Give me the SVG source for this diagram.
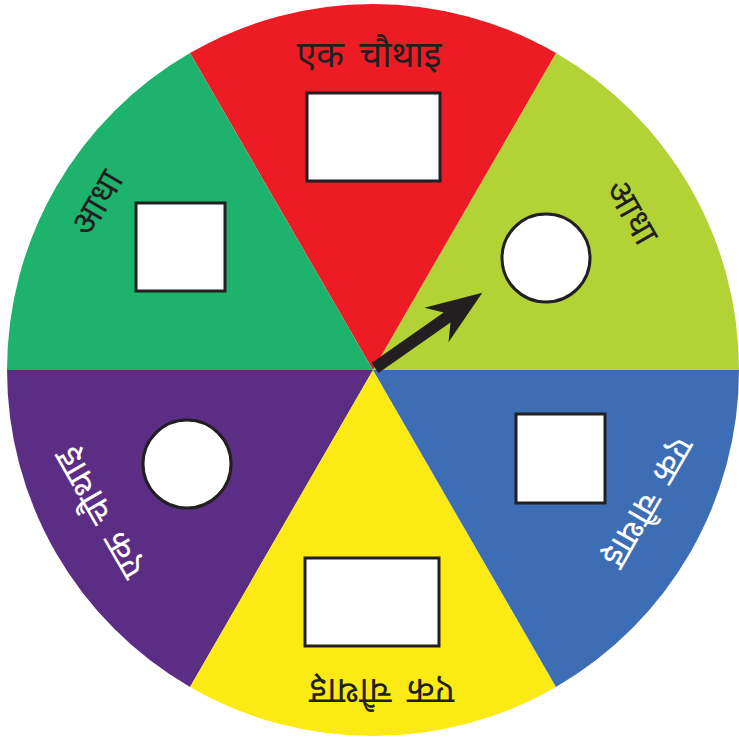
<svg xmlns="http://www.w3.org/2000/svg" width="739" height="738" viewBox="0 0 739 738">
<style>
.box{fill:#fff;stroke:#231f20;stroke-width:3}
.lbl{font-family:"Noto Sans Devanagari","Noto Sans","DejaVu Sans",sans-serif;font-size:36px;text-anchor:middle;word-spacing:6px}
.dk{fill:#231f20}
.wt{fill:#fff}
</style>
<rect width="739" height="738" fill="#fff"/>
<g id="sectors">
<path id="s-lime" d="M373,370 L739,370 A366,366 0 0 0 556,53.03 Z" fill="#b2d235"/>
<path id="s-red" d="M373,370 L556,53.03 A366,366 0 0 0 190,53.03 Z" fill="#ed1c24"/>
<path id="s-green" d="M373,370 L190,53.03 A366,366 0 0 0 7,370 Z" fill="#1db36c"/>
<path id="s-purple" d="M373,370 L7,370 A366,366 0 0 0 190,686.97 Z" fill="#5c2d84"/>
<path id="s-yellow" d="M373,370 L190,686.97 A366,366 0 0 0 556,686.97 Z" fill="#fbea14"/>
<path id="s-blue" d="M373,370 L556,686.97 A366,366 0 0 0 739,370 Z" fill="#3c6db5"/>
</g>
<g id="n-red">
<rect class="box" x="307" y="93" width="133" height="88"/>
<text class="lbl dk" x="369" y="67">एक चौथाइ</text>
</g>
<g id="n-lime">
<circle class="box" cx="546" cy="258" r="44"/>
<text class="lbl dk" transform="translate(632,212) rotate(60)" y="12">आधा</text>
</g>
<g id="n-green">
<rect class="box" x="136" y="203" width="89" height="88"/>
<text class="lbl dk" transform="translate(97,203) rotate(-60)" y="12">आधा</text>
</g>
<g id="n-blue">
<rect class="box" x="516" y="414" width="89" height="89"/>
<text class="lbl wt" transform="translate(648,502) rotate(120)" y="12">एक चौथाइ</text>
</g>
<g id="n-purple">
<circle class="box" cx="187" cy="464" r="44"/>
<text class="lbl wt" transform="translate(100,513) rotate(-120)" y="12">एक चौथाइ</text>
</g>
<g id="n-yellow">
<rect class="box" x="305" y="558" width="134" height="88"/>
<text class="lbl dk" transform="translate(382,691) rotate(180)" y="12">एक चौथाइ</text>
</g>
<g id="connectors">
<polygon transform="translate(375,368) rotate(-35)" points="0,-6 88,-6 75,-21 131,0 75,21 88,6 0,6" fill="#231f20"/>
</g>
</svg>
